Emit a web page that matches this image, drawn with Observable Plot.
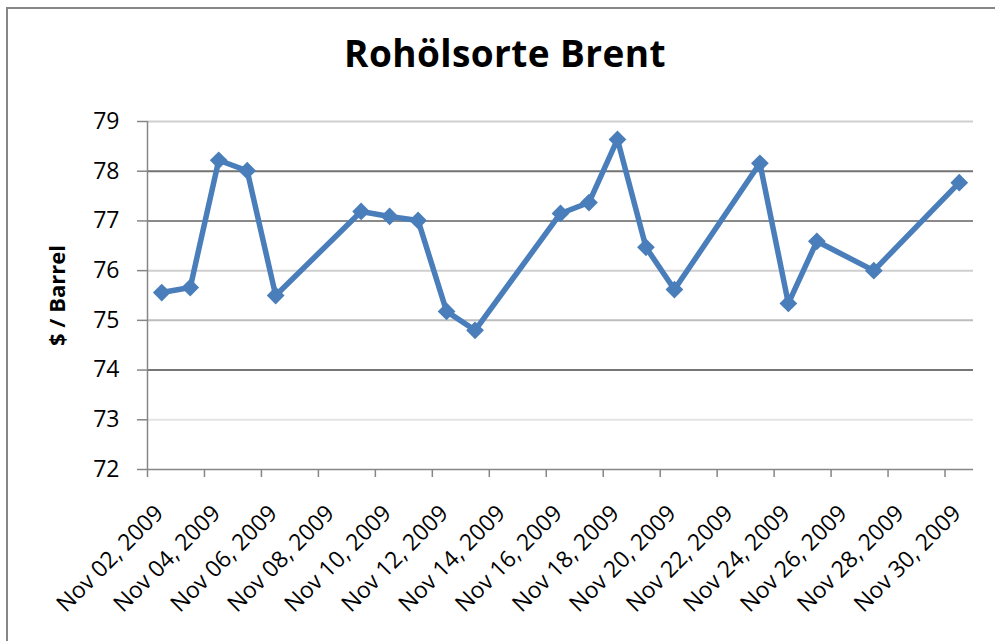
<!DOCTYPE html>
<html>
<head>
<meta charset="utf-8">
<script src="https://cdn.jsdelivr.net/npm/d3@7"></script>
<script src="https://cdn.jsdelivr.net/npm/@observablehq/plot@0.6"></script>
<style>
  html, body { margin: 0; padding: 0; background: #fff; }
  #wrap { position: relative; width: 995px; height: 641px; overflow: hidden; background: #fff; }
  #frame { position: absolute; left: 6px; top: 7px; width: 1100px; height: 800px; border: 2px solid #878787; box-sizing: border-box; }
  #title { position: absolute; left: 0; top: 27px; width: 1010px; text-align: center; font-family: "Open Sans", sans-serif; font-weight: 700; font-size: 37px; letter-spacing: 0.4px; line-height: normal; color: #000; }
  #chart { position: absolute; left: 0; top: 0; }
  #chart g[aria-label="y-axis label"] text { font-weight: 700; font-size: 22px; }
  #chart g[aria-label="y-axis tick"] path, #chart g[aria-label="x-axis tick"] path { stroke: #868686; stroke-width: 1.5px; }
</style>
</head>
<body>
<div id="wrap">
  <div id="frame"></div>
  <div id="title"></div>
  <div id="chart"></div>
</div>
<script>
// ---- data ----
const dates = ["2009-11-02","2009-11-03","2009-11-04","2009-11-05","2009-11-06",
               "2009-11-09","2009-11-10","2009-11-11","2009-11-12","2009-11-13",
               "2009-11-16","2009-11-17","2009-11-18","2009-11-19","2009-11-20",
               "2009-11-23","2009-11-24","2009-11-25","2009-11-27","2009-11-30"];
const prices = [75.56, 75.66, 78.22, 78.01, 75.50,
                77.19, 77.09, 77.01, 75.18, 74.80,
                77.15, 77.37, 78.64, 76.47, 75.62,
                78.16, 75.34, 76.59, 76.00, 77.77];
const xTickLabels = ["Nov 02, 2009","Nov 04, 2009","Nov 06, 2009","Nov 08, 2009","Nov 10, 2009",
                     "Nov 12, 2009","Nov 14, 2009","Nov 16, 2009","Nov 18, 2009","Nov 20, 2009",
                     "Nov 22, 2009","Nov 24, 2009","Nov 26, 2009","Nov 28, 2009","Nov 30, 2009"];
const yTicks = [72, 73, 74, 75, 76, 77, 78, 79];
const xRange = ["2009-11-02", "2009-12-01"];
const titleText = "Rohölsorte Brent";
const yLabel = "$ / Barrel";

// ---- build ----
const parseLabel = d3.utcParse("%b %d, %Y");
const fmt = d3.utcFormat("%b %d, %Y");
const xTicks = xTickLabels.map(parseLabel);
const data = dates.map((d, i) => ({date: new Date(d + "T12:00:00Z"), price: prices[i]}));
const xDomain = xRange.map(d => new Date(d + "T00:00:00Z"));
document.getElementById("title").textContent = titleText;

// gridline shades as they appear in the reference
const gridShade = v => ({79: "#cfcfcf", 78: "#737373", 77: "#8a8a8a", 76: "#cfcfcf", 75: "#bdbdbd", 74: "#767676", 73: "#e4e4e4"})[v] || "#bbbbbb";

const chart = Plot.plot({
  width: 995,
  height: 641,
  marginLeft: 147,
  marginRight: 22,
  marginTop: 121,
  marginBottom: 172,
  style: {fontFamily: "'Open Sans', sans-serif", fontSize: "23px", color: "#000", background: "transparent", overflow: "visible"},
  x: {type: "utc", domain: xDomain, label: null},
  y: {domain: [72, 79], label: null},
  marks: [
    Plot.ruleY(yTicks.filter(v => v > 72), {y: d => d, stroke: d => gridShade(d), strokeWidth: 2}),
    Plot.ruleY([72], {stroke: "#868686", strokeWidth: 1.5}),
    Plot.ruleX([xDomain[0]], {stroke: "#868686", strokeWidth: 1.5}),
    Plot.axisY({ticks: yTicks, tickFormat: d3.format("d"), tickSize: 10, tickPadding: 18, label: yLabel, labelAnchor: "center", labelArrow: "none", labelOffset: 98}),
    // tick marks only
    Plot.axisX({ticks: xTicks, tickFormat: () => "", tickSize: 8, label: null}),
    // rotated labels only
    Plot.axisX({ticks: xTicks, tickFormat: fmt, tickSize: 0, tickPadding: 14, tickRotate: -45, dx: 12, dy: 26, label: null}),
    Plot.line(data, {x: "date", y: "price", stroke: "#4a7ebb", strokeWidth: 5.5, strokeLinejoin: "miter"}),
    Plot.dot(data, {x: "date", y: "price", symbol: "diamond2", r: 8, fill: "#4a7ebb", stroke: "none"})
  ]
});
document.getElementById("chart").append(chart);
</script>
</body>
</html>
